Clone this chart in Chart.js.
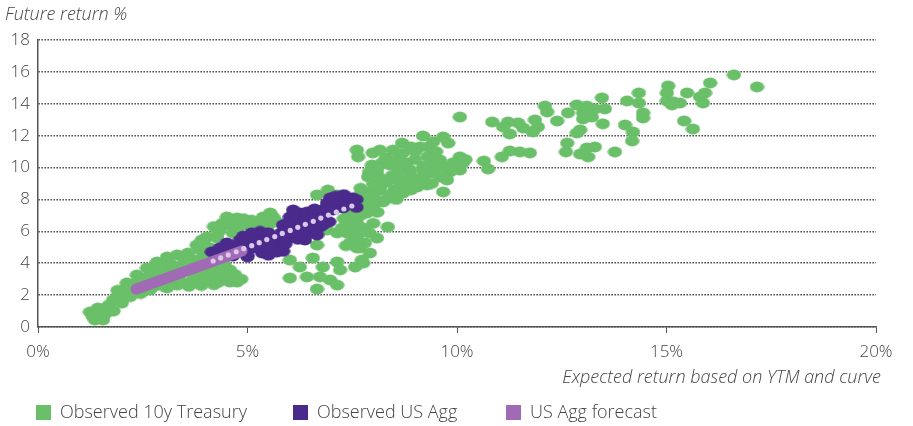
<!DOCTYPE html>
<html>
<head>
<meta charset="utf-8">
<title>Expected vs future return</title>
<script src="https://cdn.jsdelivr.net/npm/chart.js@4.4.1/dist/chart.umd.min.js"></script>
<style>
  html, body { margin: 0; padding: 0; background: #fff; }
  #wrap { width: 913px; height: 426px; }
</style>
</head>
<body>
<div id="wrap"><canvas id="chart" width="913" height="426"></canvas></div>
<script>
// ---- data (in % units) ----
const yTitle = "Future return %";
const xTitle = "Expected return based on YTM and curve";
const seriesNames = ["Observed 10y Treasury", "Observed US Agg", "US Agg forecast"];
const xTicks = [0, 5, 10, 15, 20];
const yTicks = [0, 2, 4, 6, 8, 10, 12, 14, 16, 18];

// [expected, future]
const treasury = [
  // upper right
  [16.61,15.81],[17.16,15.06],[16.04,15.31],[15.92,14.68],[15.80,14.43],[15.87,14.05],[15.49,14.68],
  [15.04,15.12],[15.01,14.68],[15.01,14.18],[15.16,14.12],[15.32,14.05],[15.13,13.93],[15.42,12.92],
  [15.63,12.42],[14.34,14.68],[14.34,14.05],[14.06,14.18],[14.44,13.43],[14.44,13.11],[14.01,12.67],
  [14.20,12.23],[14.18,11.67],[13.77,10.98],[13.46,14.37],[13.53,13.68],[13.48,12.74],[13.29,13.68],
  [13.10,13.86],[12.86,13.93],[12.65,13.43],[13.01,13.43],[13.01,13.05],[13.22,13.17],[12.94,12.36],
  [12.86,12.17],[12.63,11.54],[12.60,10.98],[12.94,10.85],[13.13,10.67],[13.29,11.29],[13.10,11.23],
  [12.39,12.92],[12.10,13.86],[12.15,13.49],[11.86,12.99],[11.93,12.55],[11.81,12.23],[11.58,12.48],
  [11.46,12.80],[11.22,12.86],[11.10,12.55],[11.26,12.11],[10.84,12.86],[11.74,10.92],[11.50,10.98],
  [11.26,11.04],[11.07,10.67],[10.64,10.41],[10.74,9.91],
  // middle
  [10.07,13.17],[9.19,11.98],[9.67,11.92],[9.79,11.54],[9.43,11.61],[9.31,11.29],[9.12,11.29],
  [8.69,11.54],[8.47,11.10],[8.16,11.10],[7.99,10.92],[7.61,11.10],[7.64,10.67],[10.07,10.67],
  [10.14,10.29],[9.90,10.29],[9.59,10.48],[9.83,9.72],[10.07,9.85],[9.59,9.41],[9.76,9.22],
  [9.67,8.47],[9.36,9.66],[9.19,9.41],[9.05,9.10],[8.88,9.85],[8.81,9.22],[8.64,10.04],
  [8.40,10.16],[8.21,10.29],[7.99,10.04],[8.09,9.72],[7.88,9.41],[8.33,9.10],[8.57,9.22],
  [8.71,8.72],[9.05,8.78],[9.28,8.91],[8.16,8.59],[7.92,8.47],[7.68,8.28],[8.40,8.28],
  [8.23,7.84],[7.99,7.53],[7.76,7.78],[7.85,7.15],[7.52,7.34],[7.61,6.52],[7.76,6.21],
  [7.37,5.90],[8.35,6.27],[8.09,5.58],[7.80,5.27],[7.68,4.96],[7.92,4.64],[7.97,10.16],
  [8.16,8.78],[7.85,8.16],[7.73,4.20],[7.76,4.01],[6.92,8.59],[7.14,8.28],[8.71,8.40],
  [8.55,8.00],[8.90,8.60],
  [8.00,9.00],[8.20,9.30],[8.45,9.50],[8.60,9.70],[8.80,10.30],[9.00,10.50],[9.20,10.10],
  [9.40,10.30],[9.50,10.00],[9.70,10.00],[9.50,11.00],[9.00,11.00],[8.90,11.30],[8.30,10.60],
  [8.60,10.60],[9.20,9.80],[8.90,9.50],[8.50,8.60],[8.30,8.00],[8.00,8.20],[7.80,7.50],
  [7.70,7.00],[8.10,7.20],[9.00,8.90],[9.40,9.00],[9.90,9.90],[10.20,10.50],[9.30,10.70],
  [8.70,10.90],[8.10,10.00],[7.90,9.70],[7.70,8.70],[8.00,7.90],
  // around the Agg cluster
  [6.66,8.28],[7.61,7.84],[7.61,6.90],[7.37,6.52],[7.14,5.90],[6.90,6.09],[6.66,5.14],
  [5.61,6.90],[5.35,6.59],[5.23,6.52],[5.54,7.15],[4.75,6.84],[4.58,6.40],[4.34,6.09],
  [4.03,5.65],[3.79,5.14],[3.94,5.33],[6.01,4.20],[6.25,3.76],[6.56,4.33],[6.80,3.76],
  [7.14,4.08],[7.21,3.58],[6.97,2.95],[6.73,3.14],[6.42,3.14],[6.01,3.07],[7.14,2.63],
  [6.66,2.38],[7.61,4.96],[7.57,3.76],[4.58,3.58],[4.75,2.95],[4.42,2.95],[4.27,4.20],
  [5.54,6.71],[5.37,6.90],[4.65,6.71],[4.51,6.90],[4.65,5.90],[4.27,5.65],[7.68,5.90],
  [7.52,6.71],[3.87,4.20],[4.11,3.76],[3.91,5.46],
  [7.45,7.00],[7.30,6.80],[7.50,6.20],[7.60,5.60],[7.45,5.30],[7.35,5.10],[7.90,5.90],
  [8.00,6.50],[7.25,6.20],[4.90,6.80],[5.00,6.40],[5.10,6.70],[4.80,6.30],[5.70,6.60],
  [5.50,6.40],[4.40,6.50],[4.20,6.30],
  // lower left
  [1.24,0.94],[1.43,1.19],[1.55,0.44],[1.36,0.44],[1.65,1.25],[1.79,1.69],[1.96,2.01],
  [2.08,2.38],[2.32,2.63],[2.51,2.82],[2.72,2.95],[2.91,3.14],[3.15,3.39],[3.39,3.45],
  [3.63,3.58],[3.87,3.39],[4.11,3.14],[4.34,2.95],[4.58,2.82],[4.75,2.82],[4.51,3.26],
  [4.27,3.58],[2.84,4.08],[3.08,4.39],[3.32,4.52],[3.58,4.64],[3.87,4.83],[4.11,4.96],
  [3.94,5.27],[4.27,5.58],[4.30,5.96],[2.60,3.70],[2.36,3.26],[2.12,2.76],[1.89,1.88],
  [2.24,2.13],[2.67,2.32],[3.08,2.45],[3.32,2.63],[2.74,2.51],[3.60,2.55],[3.90,2.60],
  [4.20,2.65],[1.60,0.80],
  [1.30,0.70],[1.50,1.00],[1.70,1.40],[1.80,1.00],[2.00,1.50],[2.00,1.80],[2.20,1.90],
  [2.30,2.30],[2.45,2.10],[2.50,2.50],[2.60,3.10],[2.80,2.70],[2.95,2.60],[3.00,3.40],
  [3.00,3.80],[3.20,3.00],[3.20,3.90],[3.35,3.10],[3.45,2.80],[3.50,3.90],[3.50,4.20],
  [3.70,3.00],[3.75,4.20],[3.80,2.80],[3.95,3.60],[4.00,3.00],[4.00,4.40],[4.20,3.40],
  [4.30,2.80],[4.40,3.30],[4.45,3.90],[4.60,3.10],[4.70,3.30],[4.85,3.00],[2.40,3.00],
  [2.20,2.60],[1.90,2.30],[2.70,3.50],[2.90,3.60]
];

const usAgg = [
  [4.15,4.71],[4.34,4.96],[4.75,4.83],[4.82,5.46],[5.06,5.65],[5.30,5.77],[5.13,4.96],
  [5.35,4.64],[5.54,4.83],[5.70,5.02],[5.47,5.33],[5.78,5.58],[5.89,6.09],[6.01,6.90],
  [6.09,7.34],[6.25,7.15],[6.42,7.21],[6.54,6.71],[6.73,6.27],[6.66,5.77],[6.37,5.46],
  [6.25,5.96],[6.09,6.27],[6.78,7.34],[6.90,7.78],[6.97,8.09],[7.21,8.16],[7.40,8.09],
  [7.52,7.78],[7.28,7.47],[7.04,7.34],[6.80,6.84],[4.99,4.52],[4.51,5.27],[5.85,6.40],
  [4.60,4.55],[5.90,5.20],[6.50,6.10],[7.10,7.70],[7.60,7.50],
  [4.30,4.60],[4.50,4.90],[4.70,5.10],[4.90,5.00],[5.00,5.30],[5.20,5.40],[5.20,5.10],
  [5.40,5.00],[5.60,5.30],[5.60,5.60],[5.50,5.90],[5.30,6.00],[5.10,5.90],[4.90,5.70],
  [5.80,5.90],[5.70,4.70],[4.90,4.70],[5.00,4.40],
  [6.00,5.60],[6.20,5.50],[6.40,5.80],[6.50,6.40],[6.30,6.50],[6.10,6.60],[5.95,6.50],
  [6.20,6.90],[6.40,6.90],[6.60,7.00],[6.80,7.10],[6.60,7.40],[6.90,7.50],[7.00,7.90],
  [7.20,7.90],[7.40,7.80],[7.30,8.30],[7.10,8.20],[7.50,8.10],[6.95,6.60],[6.80,6.40],
  [6.60,6.10],[6.35,6.10],[6.15,5.90],[7.60,8.00],
  [5.50,4.50],[5.85,4.75],[4.65,4.45]
];

// forecast band (start/end of the thick purple stroke)
const aggForecast = [[2.34,2.38],[4.87,4.77]];

// light dotted forecast path
const forecastPath = [
  [4.18,4.14],[4.36,4.33],[4.54,4.52],[4.73,4.72],[4.91,4.91],[5.10,5.10],[5.28,5.29],
  [5.46,5.48],[5.65,5.67],[5.83,5.87],[6.02,6.06],[6.20,6.25],[6.38,6.44],[6.57,6.63],
  [6.75,6.83],[6.93,7.02],[7.12,7.21],[7.30,7.40],[7.49,7.59]
];

// ---- styles ----
const GREEN = "#6abf69";
const DARK_PURPLE = "#4a2b8c";
const PURPLE = "#a06ab4";
const LIGHT_DOT = "#d9c8ea";
const TEXT = "#444444";
const FONT = '"Open Sans", "Liberation Sans", sans-serif';

const toXY = arr => arr.map(p => ({ x: p[0], y: p[1] }));

// oval marker, slightly wider than tall
function oval(color) {
  const c = document.createElement("canvas");
  c.width = 15;
  c.height = 12;
  const g = c.getContext("2d");
  g.fillStyle = color;
  g.beginPath();
  g.ellipse(7.5, 6, 7.2, 5.4, 0, 0, Math.PI * 2);
  g.fill();
  return c;
}

const textPlugin = {
  id: "texts",
  afterDraw(chart) {
    const ctx = chart.ctx;
    ctx.save();
    ctx.fillStyle = TEXT;
    ctx.textBaseline = "middle";

    ctx.font = "italic 300 18px " + FONT;
    ctx.textAlign = "left";
    ctx.fillText(yTitle, 5, 15);
    ctx.textAlign = "right";
    ctx.fillText(xTitle, 881, 378);

    // legend
    const colors = [GREEN, DARK_PURPLE, PURPLE];
    const xs = [36, 293, 506];
    ctx.font = "300 18px " + FONT;
    ctx.textAlign = "left";
    seriesNames.forEach((name, i) => {
      ctx.fillStyle = colors[i];
      ctx.fillRect(xs[i], 405, 15, 15);
      ctx.fillStyle = TEXT;
      ctx.fillText(name, xs[i] + 24, 413);
    });
    ctx.restore();
  }
};

new Chart(document.getElementById("chart"), {
  type: "scatter",
  data: {
    datasets: [
      {
        label: "light path",
        data: toXY(forecastPath),
        pointRadius: 2.6,
        pointBackgroundColor: LIGHT_DOT,
        pointBorderWidth: 0,
        order: 1
      },
      {
        label: seriesNames[2],
        type: "line",
        data: toXY(aggForecast),
        showLine: true,
        borderColor: PURPLE,
        borderWidth: 11,
        borderCapStyle: "round",
        pointRadius: 0,
        fill: false,
        order: 2
      },
      {
        label: seriesNames[1],
        data: toXY(usAgg),
        pointStyle: oval(DARK_PURPLE),
        pointRadius: 6,
        order: 3
      },
      {
        label: seriesNames[0],
        data: toXY(treasury),
        pointStyle: oval(GREEN),
        pointRadius: 6,
        order: 4
      }
    ]
  },
  options: {
    responsive: false,
    animation: false,
    devicePixelRatio: 1,
    layout: { padding: { top: 40, right: 37, bottom: 0, left: 0 } },
    plugins: {
      legend: { display: false },
      title: { display: false },
      tooltip: { enabled: false }
    },
    scales: {
      x: {
        type: "linear",
        min: xTicks[0],
        max: xTicks[xTicks.length - 1],
        afterFit: s => { s.height = 99; },
        afterBuildTicks: s => { s.ticks = xTicks.map(v => ({ value: v })); },
        ticks: {
          callback: v => v + "%",
          color: TEXT,
          font: { family: FONT, size: 17, weight: "300" },
          padding: 9,
          maxRotation: 0
        },
        grid: {
          drawOnChartArea: false,
          drawTicks: true,
          tickLength: 6,
          tickColor: "#555",
          tickWidth: 1
        },
        border: { display: true, color: "#555", width: 1.5 }
      },
      y: {
        type: "linear",
        min: yTicks[0],
        max: yTicks[yTicks.length - 1],
        afterFit: s => { s.width = 38; },
        afterBuildTicks: s => { s.ticks = yTicks.map(v => ({ value: v })); },
        ticks: {
          color: TEXT,
          font: { family: FONT, size: 17, weight: "300" },
          padding: 8
        },
        grid: {
          drawTicks: false,
          color: "#2a2a2a",
          lineWidth: 1.6
        },
        border: { display: true, color: "#555", width: 1.5, dash: [1.3, 1.7] }
      }
    }
  },
  plugins: [textPlugin]
});
</script>
</body>
</html>
